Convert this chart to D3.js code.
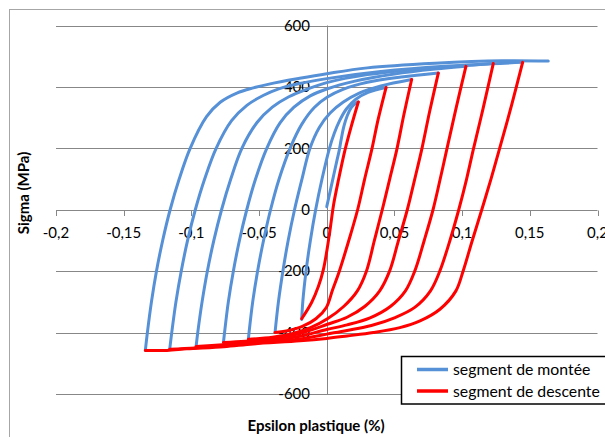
<!DOCTYPE html>
<html><head><meta charset="utf-8">
<script src="https://cdn.jsdelivr.net/npm/d3@7"></script>
<style>body{margin:0;background:#fff;overflow:hidden}</style>
</head><body><svg id="c" width="605" height="437"></svg>
<script>
// ---- data (Epsilon plastique %, Sigma MPa) ----
const montee0 = [[0,10],[0.0025,60],[0.005,110],[0.0075,160],[0.0093,195],[0.0107,230],[0.0127,272],[0.0152,307],[0.0182,333],[0.0213,347],[0.0233,351]];
const descente1 = [[0.0233,351],[0.018,270],[0.0135,195],[0.0088,100],[0.0052,20],[0.0026,-60],[0.0002,-130],[-0.0025,-195],[-0.0062,-250],[-0.0112,-302],[-0.0185,-355]];
const montee1 = [[-0.0185,-357],[-0.0177,-300],[-0.0153,-200],[-0.0121,-100],[-0.0082,0],[-0.0035,100],[0.002,200],[0.0055,248],[0.0095,290],[0.0145,328],[0.0215,360],[0.0305,382],[0.0438,398]];
const descente2 = [[0.0438,398],[0.038,295],[0.0332,195],[0.028,100],[0.0228,0],[0.0163,-100],[0.0093,-200],[0.0042,-262],[-0.0003,-318],[-0.008,-355],[-0.018,-380],[-0.028,-393],[-0.0382,-400]];
const montee2 = [[-0.0382,-400],[-0.0357,-300],[-0.0324,-200],[-0.0285,-100],[-0.0238,0],[-0.0183,100],[-0.0124,200],[-0.0055,268],[0.0025,315],[0.012,350],[0.024,380],[0.04,403],[0.0627,424]];
const descente3 = [[0.0627,424],[0.057,310],[0.0517,195],[0.0465,100],[0.041,0],[0.0352,-100],[0.0293,-200],[0.0225,-265],[0.0125,-315],[0.0005,-355],[-0.012,-384],[-0.025,-403],[-0.04,-415],[-0.0579,-422]];
const montee3 = [[-0.0579,-422],[-0.0574,-400],[-0.0547,-300],[-0.0511,-200],[-0.0467,-100],[-0.0415,0],[-0.0352,100],[-0.0271,200],[-0.0185,278],[-0.0092,333],[0.0005,367],[0.012,392],[0.03,415],[0.055,432],[0.0824,445]];
const descente4 = [[0.0824,445],[0.076,320],[0.0701,195],[0.065,100],[0.0595,0],[0.053,-100],[0.0464,-200],[0.039,-265],[0.028,-315],[0.015,-350],[0.0005,-373],[-0.02,-403],[-0.04,-420],[-0.06,-428],[-0.0763,-432]];
const montee4 = [[-0.0763,-432],[-0.0755,-400],[-0.0727,-300],[-0.069,-200],[-0.0645,-100],[-0.0591,0],[-0.0526,100],[-0.0443,200],[-0.0345,283],[-0.0242,334],[-0.0122,371],[0.0005,394],[0.02,418],[0.05,442],[0.08,458],[0.1028,467]];
const descente5 = [[0.1028,467],[0.0955,330],[0.0886,195],[0.0838,100],[0.0785,0],[0.072,-100],[0.065,-200],[0.058,-265],[0.047,-315],[0.032,-352],[0.015,-375],[0,-390],[-0.02,-412],[-0.04,-426],[-0.058,-434],[-0.077,-440],[-0.0965,-445]];
const montee5 = [[-0.0965,-445],[-0.0953,-400],[-0.0921,-300],[-0.0882,-200],[-0.0834,-100],[-0.0777,0],[-0.0709,100],[-0.0627,200],[-0.0515,284],[-0.0402,334],[-0.028,368],[-0.015,392],[0,414],[0.03,440],[0.065,457],[0.10,469],[0.123,476]];
const descente6 = [[0.123,476],[0.1155,330],[0.1082,195],[0.1033,100],[0.0975,0],[0.091,-100],[0.0835,-200],[0.0765,-265],[0.065,-318],[0.05,-352],[0.033,-377],[0.015,-393],[0,-405],[-0.02,-421],[-0.055,-435],[-0.076,-443],[-0.097,-450],[-0.116,-454]];
const montee6 = [[-0.116,-454],[-0.1145,-400],[-0.1114,-300],[-0.1075,-200],[-0.1028,-100],[-0.0971,0],[-0.0902,100],[-0.0817,200],[-0.0703,290],[-0.059,340],[-0.047,372],[-0.036,393],[-0.02,411],[0,427],[0.04,450],[0.09,468],[0.1447,480]];
const descente7 = [[0.1447,480],[0.1365,340],[0.1274,195],[0.1213,100],[0.1145,0],[0.1075,-100],[0.1007,-200],[0.0953,-265],[0.0836,-324],[0.0689,-362],[0.054,-384],[0.0344,-400],[0.015,-411],[0,-419],[-0.0197,-427],[-0.0542,-437],[-0.076,-446],[-0.1033,-453],[-0.118,-458],[-0.134,-458]];
const montee7 = [[-0.134,-458],[-0.1325,-400],[-0.1295,-300],[-0.1258,-200],[-0.1212,-100],[-0.1157,0],[-0.109,100],[-0.1009,200],[-0.0888,303],[-0.0787,350],[-0.0664,380],[-0.0542,397],[-0.0418,410],[-0.02,428],[0,443],[0.03,462],[0.08,477],[0.13,485],[0.1636,484]];

const montee = [montee0, montee1, montee2, montee3, montee4, montee5, montee6, montee7];
const descente = [descente1, descente2, descente3, descente4, descente5, descente6, descente7];
const seriesNames = ["segment de montée", "segment de descente"];
const seriesColors = ["#5690D6", "#FF0000"];
const xTicks = [-0.2, -0.15, -0.1, -0.05, 0, 0.05, 0.1, 0.15, 0.2];
const yTicks = [-600, -400, -200, 0, 200, 400, 600];
const xTitle = "Epsilon plastique (%)";
const yTitle = "Sigma (MPa)";

// ---- drawing ----
const FONT = "Lato, 'Open Sans', sans-serif";
const svg = d3.select("#c");
svg.append("rect").attr("width", 605).attr("height", 437).attr("fill", "#fff");
svg.append("rect").attr("x", 9.5).attr("y", 9.5).attr("width", 640).attr("height", 480)
  .attr("fill", "none").attr("stroke", "#A6A6A6").attr("stroke-width", 1);

const x = d3.scaleLinear().domain([-0.2, 0.2]).range([56, 597.5]);
const y = d3.scaleLinear().domain([-600, 600]).range([394, 25.5]);
const fmt = d => d === 0 ? "0" : String(d).replace(".", ",");
const grid = "#878787";

// gridlines
svg.append("g").selectAll("line").data(yTicks).join("line")
  .attr("x1", x(-0.2)).attr("x2", x(0.2))
  .attr("y1", d => Math.round(y(d)) + 0.5).attr("y2", d => Math.round(y(d)) + 0.5)
  .attr("stroke", grid).attr("stroke-width", 1);

// y axis line
svg.append("line").attr("x1", Math.round(x(0)) + 0.5).attr("x2", Math.round(x(0)) + 0.5)
  .attr("y1", y(600)).attr("y2", y(-600)).attr("stroke", grid);

// x axis ticks
svg.append("g").selectAll("line").data(xTicks).join("line")
  .attr("x1", d => Math.round(x(d)) + 0.5).attr("x2", d => Math.round(x(d)) + 0.5)
  .attr("y1", Math.round(y(0)) + 0.5).attr("y2", Math.round(y(0)) + 6)
  .attr("stroke", grid);

// tick labels
svg.append("g").selectAll("text").data(xTicks).join("text")
  .attr("x", d => x(d)).attr("y", 238).attr("text-anchor", "middle")
  .attr("font-family", FONT).attr("font-size", 15).attr("fill", "#000")
  .text(fmt);
svg.append("g").selectAll("text").data(yTicks).join("text")
  .attr("x", 310).attr("y", d => y(d) + 5.3).attr("text-anchor", "end")
  .attr("font-family", FONT).attr("font-size", 15).attr("fill", "#000")
  .text(fmt);

// axis titles
svg.append("text").attr("x", 316).attr("y", 431).attr("text-anchor", "middle")
  .attr("font-family", FONT).attr("font-weight", "bold").attr("font-size", 15)
  .text(xTitle);
svg.append("text").attr("transform", "translate(29,193) rotate(-90)").attr("text-anchor", "middle")
  .attr("font-family", FONT).attr("font-weight", "bold").attr("font-size", 15)
  .text(yTitle);

// series
const line = d3.line().x(d => x(d[0])).y(d => y(d[1])).curve(d3.curveCatmullRom.alpha(0.5));
svg.append("g").selectAll("path").data(montee).join("path")
  .attr("d", line).attr("fill", "none").attr("stroke", seriesColors[0])
  .attr("stroke-width", 3).attr("stroke-linejoin", "round").attr("stroke-linecap", "round");
svg.append("g").selectAll("path").data(descente).join("path")
  .attr("d", line).attr("fill", "none").attr("stroke", seriesColors[1])
  .attr("stroke-width", 3).attr("stroke-linejoin", "round").attr("stroke-linecap", "round");

// legend
const lg = svg.append("g");
lg.append("rect").attr("x", 401.5).attr("y", 356.5).attr("width", 230).attr("height", 47.5)
  .attr("fill", "#fff").attr("stroke", "#000").attr("stroke-width", 1.5);
seriesNames.forEach((n, i) => {
  const yy = 369.5 + i * 21.5;
  lg.append("line").attr("x1", 417).attr("x2", 448).attr("y1", yy).attr("y2", yy)
    .attr("stroke", seriesColors[i]).attr("stroke-width", 3.5);
  lg.append("text").attr("x", 453).attr("y", yy + 5.5)
    .attr("font-family", FONT).attr("font-size", 15.8).text(n);
});
</script>
</body></html>
